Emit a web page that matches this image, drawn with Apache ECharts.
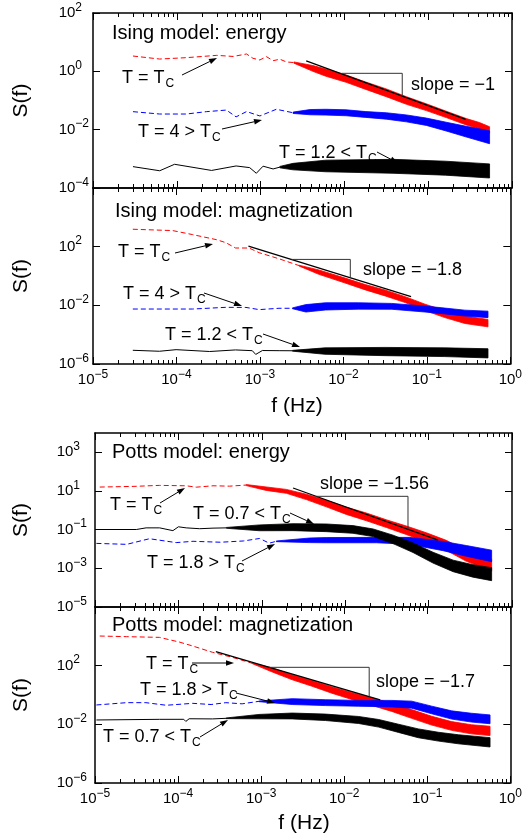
<!DOCTYPE html>
<html><head><meta charset="utf-8">
<script src="https://cdn.jsdelivr.net/npm/echarts@6/dist/echarts.min.js"></script>
<style>html,body{margin:0;padding:0;background:#fff}#c{width:525px;height:839px}</style>
</head><body><div id="c"></div>
<script>
// ---------- tick labels (exponents of 10) ----------
const xMajorExp = [-5, -4, -3, -2, -1, 0];
const xMinorMult = [2, 3, 4, 5, 6, 7, 8, 9];
const yTickExpIsingE = [-4, -2, 0, 2];
const yTickExpIsingM = [-6, -2, 2];
const yTickExpPottsE = [-5, -3, -1, 1, 3];
const yTickExpPottsM = [-6, -2, 2];

// ---------- data: [f (Hz), S] for sparse low-f part, [f, S_low, S_high] for dense noisy band ----------
// Ising model: energy
const isingE_Tc_line = [[3.0e-5,3.35],[6.25e-5,2.64],[1.3e-4,2.94],[3.0e-4,3.53],[4.7e-4,3.24],[6.8e-4,3.93],[8.1e-4,2.8],[9.8e-4,2.45],[1.17e-3,3.2],[1.41e-3,2.32],[1.7e-3,2.6],[2.04e-3,2.09],[2.5e-3,2.0]];
const isingE_Tc_band = [[2.5e-3,1.9,2.1],[4.2e-3,1.0,1.58],[6.0e-3,0.68,1.2],[1.05e-2,0.42,0.75],[1.8e-2,0.24,0.43],[3.16e-2,0.135,0.25],[5.5e-2,0.074,0.135],[9.5e-2,0.045,0.077],[0.164,0.026,0.043],[0.285,0.0145,0.024],[0.41,0.0105,0.0175],[0.54,0.0076,0.0126]];
const isingE_T4_line = [[3.0e-5,0.0414],[6.25e-5,0.0344],[1.3e-4,0.0344],[2.25e-4,0.0414],[3.9e-4,0.047],[5.1e-4,0.0275],[6.8e-4,0.0417],[9.8e-4,0.0295],[1.54e-3,0.05],[2.44e-3,0.038]];
const isingE_T4_band = [[2.44e-3,0.036,0.040],[3.9e-3,0.0324,0.049],[6.0e-3,0.0316,0.05],[1.05e-2,0.030,0.048],[1.8e-2,0.0263,0.0417],[3.16e-2,0.0229,0.038],[5.5e-2,0.0185,0.032],[9.5e-2,0.014,0.025],[0.164,0.009,0.018],[0.285,0.0056,0.013],[0.54,0.0033,0.0091]];
const isingE_T12_line = [[3.0e-5,5.4e-4],[6.25e-5,3.9e-4],[9.4e-5,6.5e-4],[2.6e-4,4.0e-4],[5.1e-4,5.7e-4],[7.4e-4,5.0e-4],[8.9e-4,3.2e-4],[1.07e-3,5.6e-4],[1.41e-3,4.5e-4],[1.7e-3,5.2e-4]];
const isingE_T12_band = [[1.7e-3,4.9e-4,5.5e-4],[2.44e-3,4.2e-4,7.0e-4],[6.0e-3,3.6e-4,9.0e-4],[3.8e-2,3.2e-4,9.6e-4],[0.16,2.75e-4,8.3e-4],[0.54,2.2e-4,6.7e-4]];
const isingE_slope = [[3.5e-3,2.3],[0.28,0.0226]];
const isingE_tri = [[9.2e-3,0.855],[0.049,0.855],[0.049,0.143]];

// Ising model: magnetization
const isingM_Tc_line = [[3.0e-5,1540],[9.0e-5,1250],[1.56e-4,664],[3.0e-4,302],[3.9e-4,188],[5.1e-4,81],[7.4e-4,81],[9.8e-4,38.7],[1.69e-3,15],[2.92e-3,5.2]];
const isingM_Tc_band = [[2.92e-3,4.9,5.5],[5.07e-3,1.3,2.6],[1.05e-2,0.33,0.72],[1.83e-2,0.113,0.26],[3.16e-2,0.044,0.111],[5.5e-2,0.0154,0.039],[9.5e-2,0.0044,0.012],[0.164,1.46e-3,4.4e-3],[0.285,5.8e-4,1.84e-3],[0.54,3.4e-4,1.1e-3]];
const isingM_T4_line = [[3.0e-5,5.6e-3],[1.56e-4,5.6e-3],[3.9e-4,7.3e-3],[6.8e-4,7.2e-3],[9.8e-4,5.1e-3],[1.69e-3,6.3e-3],[2.45e-3,6.3e-3]];
const isingM_T4_band = [[2.45e-3,5.9e-3,6.7e-3],[3.55e-3,3.5e-3,0.0112],[6.1e-3,4.8e-3,0.015],[1.52e-2,5.5e-3,0.015],[3.8e-2,5.4e-3,0.0135],[9.5e-2,3.5e-3,8.9e-3],[0.164,2.6e-3,6.5e-3],[0.285,1.87e-3,4.7e-3],[0.54,1.45e-3,4.0e-3]];
const isingM_T12_line = [[3.0e-5,8.6e-6],[6.25e-5,7.4e-6],[9.9e-5,9.5e-6],[2.5e-4,7.1e-6],[5.1e-4,9.1e-6],[8.1e-4,8.1e-6],[8.9e-4,4.5e-6],[1.07e-3,8.3e-6],[1.7e-3,8.1e-6],[2.45e-3,8.0e-6]];
const isingM_T12_band = [[2.45e-3,7.5e-6,8.5e-6],[6.0e-3,4.6e-6,1.26e-5],[3.16e-2,3.7e-6,1.35e-5],[0.164,3.2e-6,1.26e-5],[0.54,2.6e-6,1.1e-5]];
const isingM_slope = [[7.28e-4,110],[0.0647,0.0392]];
const isingM_tri = [[2.39e-3,13.5],[0.0121,13.5],[0.0121,0.766]];

// Potts model: energy
const pottsE_Tc_line = [[1.14e-5,16.0],[2.86e-5,17.3],[5.96e-5,19.5],[1.24e-4,18.6],[1.64e-4,15.8],[2.6e-4,18.6],[4.1e-4,17.8],[6.5e-4,20.3]];
const pottsE_Tc_band = [[6.5e-4,19,21.5],[1.13e-3,10.7,16.2],[1.97e-3,7.6,12.1],[3.42e-3,3.6,6.8],[5.94e-3,1.51,3.31],[1.03e-2,0.617,1.48],[1.8e-2,0.288,0.724],[3.12e-2,0.129,0.324],[5.4e-2,0.0562,0.155],[9.4e-2,0.0229,0.0692],[0.163,8.5e-3,0.028],[0.284,2.3e-3,8.3e-3],[0.41,1.23e-3,4.7e-3],[0.57,7.2e-4,2.9e-3]];
const pottsE_T07_line = [[1.04e-5,0.102],[3.13e-5,0.102],[4.1e-5,0.124],[5.96e-5,0.124],[8.6e-5,0.089],[1.0e-4,0.141],[1.24e-4,0.124],[1.8e-4,0.112],[2.6e-4,0.12],[3.76e-4,0.124]];
const pottsE_T07_band = [[3.76e-4,0.118,0.13],[9.4e-4,0.088,0.176],[2.37e-3,0.089,0.204],[5.94e-3,0.079,0.197],[1.24e-2,0.065,0.162],[2.16e-2,0.044,0.109],[3.75e-2,0.019,0.052],[6.5e-2,6.6e-3,0.0207],[0.113,1.87e-3,6.8e-3],[0.197,6.7e-4,2.65e-3],[0.34,3.5e-4,1.54e-3],[0.57,2.3e-4,1.08e-3]];
const pottsE_T18_line = [[1.04e-5,0.0195],[2.4e-5,0.0174],[4.5e-5,0.034],[9.4e-5,0.0214],[1.5e-4,0.025],[3.2e-4,0.0224],[6.0e-4,0.026],[9.4e-4,0.035],[1.23e-3,0.02],[1.49e-3,0.025]];
const pottsE_T18_band = [[1.49e-3,0.024,0.026],[3.75e-3,0.0214,0.037],[5.94e-3,0.021,0.039],[2.37e-2,0.021,0.04],[5.9e-2,0.0174,0.04],[0.149,8.2e-3,0.0247],[0.284,4.2e-3,0.0151],[0.57,2.2e-3,8.7e-3]];
const pottsE_slope = [[2.37e-3,14.3],[0.13,0.0289]];
const pottsE_tri = [[4.49e-3,5.31],[0.0566,5.31],[0.0566,0.1045]];

// Potts model: magnetization
const pottsM_Tc_line = [[1.14e-5,10500],[2.4e-5,9500],[5.96e-5,8500],[1.03e-4,4110],[1.5e-4,2190],[2.6e-4,813],[4.5e-4,371],[7.8e-4,145]];
const pottsM_Tc_band = [[7.8e-4,138,152],[1.36e-3,37,70],[2.37e-3,10.9,23.8],[4.1e-3,3.95,9.9],[7.1e-3,1.32,3.65],[1.24e-2,0.49,1.49],[2.15e-2,0.194,0.64],[3.74e-2,0.076,0.276],[6.5e-2,0.0255,0.101],[0.113,8.9e-3,0.0356],[0.196,3.9e-3,0.0154],[0.34,2.24e-3,9.4e-3],[0.57,1.7e-3,7.4e-3]];
const pottsM_T18_line = [[1.04e-5,0.209],[2.4e-5,0.30],[4.1e-5,0.30],[7.2e-5,0.20],[1.5e-4,0.27],[2.5e-4,0.224],[3.76e-4,0.30],[5.9e-4,0.25],[9.4e-4,0.37]];
const pottsM_T18_band = [[9.4e-4,0.35,0.39],[2.37e-3,0.224,0.562],[5.94e-3,0.19,0.479],[1.49e-2,0.171,0.43],[3.75e-2,0.155,0.427],[6.5e-2,0.126,0.382],[0.113,0.0525,0.174],[0.197,0.0228,0.0828],[0.34,0.0143,0.057],[0.57,0.011,0.044]];
const pottsM_T07_line = [[1.04e-5,0.0198],[5.96e-5,0.0219],[1.17e-4,0.022],[1.24e-4,0.0158],[1.36e-4,0.024],[2.6e-4,0.0234],[3.76e-4,0.0257]];
const pottsM_T07_band = [[3.76e-4,0.0245,0.027],[9.4e-4,0.0237,0.0472],[2.37e-3,0.0234,0.0589],[5.94e-3,0.0182,0.05],[1.49e-2,0.0114,0.0344],[2.6e-2,6.46e-3,0.0214],[4.5e-2,2.81e-3,0.0102],[7.8e-2,1.22e-3,4.9e-3],[0.136,7.2e-4,2.88e-3],[0.237,4.7e-4,1.95e-3],[0.57,2.85e-4,1.24e-3]];
const pottsM_slope = [[2.85e-4,902],[0.0271,0.457]];
const pottsM_tri = [[1.25e-3,77.1],[0.02,77.1],[0.02,0.759]];

// ---------- chart construction ----------
const FONT = '"Liberation Sans", Arial, Helvetica, sans-serif';
const RED = '#ff0000', BLUE = '#0000ff', BLACK = '#000000';
const L10 = Math.log10;

const panels = [
  {grid:{left:93, top:13, width:419, height:175}, y:[-4,2,2], yTicks:yTickExpIsingE, xLabels:false, labMargin:4,
   curves:[[isingE_Tc_line,isingE_Tc_band,RED,true],[isingE_T4_line,isingE_T4_band,BLUE,true],[isingE_T12_line,isingE_T12_band,BLACK,false]],
   slope:isingE_slope, tri:isingE_tri},
  {grid:{left:93, top:188, width:419, height:176}, y:[-6,6,4], yTicks:yTickExpIsingM, xLabels:true, labMargin:4,
   curves:[[isingM_Tc_line,isingM_Tc_band,RED,true],[isingM_T4_line,isingM_T4_band,BLUE,true],[isingM_T12_line,isingM_T12_band,BLACK,false]],
   slope:isingM_slope, tri:isingM_tri},
  {grid:{left:95, top:433, width:417, height:174}, y:[-5,4,2], yTicks:yTickExpPottsE, xLabels:false, labMargin:8,
   curves:[[pottsE_Tc_line,pottsE_Tc_band,RED,true],[pottsE_T18_line,pottsE_T18_band,BLUE,true],[pottsE_T07_line,pottsE_T07_band,BLACK,false]],
   slope:pottsE_slope, tri:pottsE_tri},
  {grid:{left:95, top:607, width:417, height:176}, y:[-6,6,4], yTicks:yTickExpPottsM, xLabels:true, labMargin:8,
   curves:[[pottsM_Tc_line,pottsM_Tc_band,RED,true],[pottsM_T18_line,pottsM_T18_band,BLUE,true],[pottsM_T07_line,pottsM_T07_band,BLACK,false]],
   slope:pottsM_slope, tri:pottsM_tri}
];

const minorVals = [];
for (let e = -5; e < 0; e++) for (const k of xMinorMult) minorVals.push(e + L10(k));

const labelRich = {
  b: {fontSize:15, fontFamily:FONT, color:'#000', verticalAlign:'middle'},
  s: {fontSize:12, fontFamily:FONT, color:'#000', padding:[0,0,11,0], verticalAlign:'middle'},
  sp: {fontSize:12, fontFamily:FONT, color:'#000', padding:[0,7,11,0], verticalAlign:'middle'}
};
function expLabel(v, padPos) {
  const e = Math.round(v);
  const s = e < 0 ? '\u2212' + (-e) : String(e);
  return '{b|10}{' + (padPos && e >= 0 ? 'sp' : 's') + '|' + s + '}';
}
const axLine = {show:true, onZero:false, lineStyle:{color:'#000', width:1.5}};
const tickStyle = {color:'#000', width:1};

const grids = [], xAxes = [], yAxes = [], series = [];
panels.forEach((p, gi) => {
  grids.push(Object.assign({containLabel:false}, p.grid));
  const xb = {type:'value', gridIndex:gi, min:-5, max:0, interval:1, splitLine:{show:false}, silent:true};
  xAxes.push(Object.assign({}, xb, {position:'bottom', axisLine:axLine,
    axisTick:{show:true, inside:true, length:7, lineStyle:tickStyle, customValues:xMajorExp},
    axisLabel:{show:p.xLabels, customValues:xMajorExp, formatter:v => expLabel(v, false), rich:labelRich, margin:4.5, color:'#000', showMinLabel:true, showMaxLabel:true}}));
  xAxes.push(Object.assign({}, xb, {position:'bottom', axisLine:{show:false, onZero:false},
    axisTick:{show:true, inside:true, length:4, lineStyle:tickStyle, customValues:minorVals}, axisLabel:{show:false}}));
  xAxes.push(Object.assign({}, xb, {position:'top', axisLine:axLine,
    axisTick:{show:true, inside:true, length:7, lineStyle:tickStyle, customValues:xMajorExp}, axisLabel:{show:false}}));
  xAxes.push(Object.assign({}, xb, {position:'top', axisLine:{show:false, onZero:false},
    axisTick:{show:true, inside:true, length:4, lineStyle:tickStyle, customValues:minorVals}, axisLabel:{show:false}}));
  const yb = {type:'value', gridIndex:gi, min:p.y[0], max:p.y[1], interval:p.y[2], splitLine:{show:false}, silent:true};
  yAxes.push(Object.assign({}, yb, {position:'left', axisLine:axLine,
    axisTick:{show:true, inside:true, length:7, lineStyle:tickStyle, customValues:p.yTicks},
    axisLabel:{show:true, customValues:p.yTicks, formatter:v => expLabel(v, true), rich:labelRich, margin:p.labMargin, color:'#000', showMinLabel:true, showMaxLabel:true}}));
  yAxes.push(Object.assign({}, yb, {position:'right', axisLine:axLine,
    axisTick:{show:true, inside:true, length:7, lineStyle:tickStyle, customValues:p.yTicks}, axisLabel:{show:false}}));

  const xi = gi * 4, yi = gi * 2;
  p.curves.forEach(([line, band, color, dashed], ci) => {
    series.push({type:'line', xAxisIndex:xi, yAxisIndex:yi, symbol:'none', showSymbol:false, silent:true, z:2 + ci,
      data: line.map(d => [L10(d[0]), L10(d[1])]),
      lineStyle:{color, width:1, type: dashed ? [5,3] : 'solid'}});
    const rows = band.map(d => [L10(d[0]), L10(d[1]), L10(d[2])]);
    series.push({type:'custom', coordinateSystem:'cartesian2d', xAxisIndex:xi, yAxisIndex:yi, silent:true, z:2 + ci,
      data: rows, encode:{x:0, y:[1,2]},
      renderItem: (params, api) => {
        if (params.dataIndex !== 0) return null;
        const top = rows.map(r => api.coord([r[0], r[2]]));
        const bot = rows.map(r => api.coord([r[0], r[1]])).reverse();
        return {type:'polygon', shape:{points: top.concat(bot)}, style:{fill:color, stroke:color, lineWidth:0.8}};
      }});
  });
  series.push({type:'line', xAxisIndex:xi, yAxisIndex:yi, symbol:'none', silent:true, z:10,
    data: p.slope.map(d => [L10(d[0]), L10(d[1])]), lineStyle:{color:'#000', width:1.3}});
  series.push({type:'line', xAxisIndex:xi, yAxisIndex:yi, symbol:'none', silent:true, z:10,
    data: p.tri.map(d => [L10(d[0]), L10(d[1])]), lineStyle:{color:'#333', width:1}});
});

// ---------- annotations ----------
function annRich(size) {
  return {
    m: {fontSize:size, fontFamily:FONT, fill:'#000', verticalAlign:'middle'},
    c: {fontSize:12, fontFamily:FONT, fill:'#000', padding:[12,0,0,1], verticalAlign:'middle'}
  };
}
function txt(x, y, str, size) {
  return {type:'text', x, y, z:100, silent:true,
    style:{text:str, align:'left', verticalAlign:'middle', textVerticalAlign:'middle', rich:annRich(size), fill:'#000', font:size + 'px ' + FONT}};
}
function arrow(x1, y1, x2, y2) {
  const a = Math.atan2(y2 - y1, x2 - x1), len = 8, w = 2.8;
  const bx = x2 - len * Math.cos(a), by = y2 - len * Math.sin(a);
  const px = -Math.sin(a) * w, py = Math.cos(a) * w;
  return [
    {type:'line', z:100, silent:true, shape:{x1, y1, x2:bx, y2:by}, style:{stroke:'#000', lineWidth:1}},
    {type:'polygon', z:100, silent:true, shape:{points:[[x2, y2], [bx + px, by + py], [bx - px, by - py]]}, style:{fill:'#000'}}
  ];
}
const TC = '{m|T = T}{c|C}';
const graphic = [
  txt(112, 33, '{m|Ising model: energy}', 20),
  txt(122, 78, TC, 18), ...arrow(182, 75, 217, 58),
  txt(138, 132, '{m|T = 4 > T}{c|C}', 18), ...arrow(222, 129, 262, 120),
  txt(279, 153, '{m|T = 1.2 < T}{c|C}', 18), ...arrow(377, 152, 398, 163),
  txt(411, 85, '{m|slope = \u22121}', 18),

  txt(115, 211, '{m|Ising model: magnetization}', 20),
  txt(118, 252, TC, 18), ...arrow(175, 253, 213, 244),
  txt(123, 294, '{m|T = 4 > T}{c|C}', 18), ...arrow(204, 293, 242, 306),
  txt(165, 335, '{m|T = 1.2 < T}{c|C}', 18), ...arrow(263, 334, 300, 347),
  txt(363, 270, '{m|slope = \u22121.8}', 18),

  txt(112, 452, '{m|Potts model: energy}', 20),
  txt(320, 484, '{m|slope = \u22121.56}', 18),
  txt(110, 505, TC, 18), ...arrow(160, 503, 185, 488),
  txt(193, 514, '{m|T = 0.7 < T}{c|C}', 18), ...arrow(290, 513, 314, 524),
  txt(147, 563, '{m|T = 1.8 > T}{c|C}', 18), ...arrow(242, 561, 275, 544),

  txt(112, 625, '{m|Potts model: magnetization}', 20),
  txt(146, 664, TC, 18), ...arrow(192, 663, 234, 663),
  txt(140, 690, '{m|T = 1.8 > T}{c|C}', 18), ...arrow(236, 693, 275, 703),
  txt(103, 737, '{m|T = 0.7 < T}{c|C}', 18), ...arrow(200, 737, 228, 720),
  txt(376, 682, '{m|slope = \u22121.7}', 18)
];
// axis titles
[100.5, 276, 520, 695].forEach(cy => graphic.push({type:'text', x:21, y:cy, rotation:Math.PI / 2, z:100, silent:true,
  style:{text:'S(f)', align:'center', verticalAlign:'middle', textVerticalAlign:'middle', fill:'#000', font:'21px ' + FONT}}));
[[297, 406], [304, 823]].forEach(([cx, cy]) => graphic.push({type:'text', x:cx, y:cy, z:100, silent:true,
  style:{text:'f (Hz)', align:'center', verticalAlign:'middle', textVerticalAlign:'middle', fill:'#000', font:'21px ' + FONT}}));

const chart = echarts.init(document.getElementById('c'), null, {renderer:'canvas', width:525, height:839});
chart.setOption({
  animation:false,
  backgroundColor:'#ffffff',
  textStyle:{fontFamily:FONT},
  grid:grids, xAxis:xAxes, yAxis:yAxes, series, graphic
});
</script></body></html>
